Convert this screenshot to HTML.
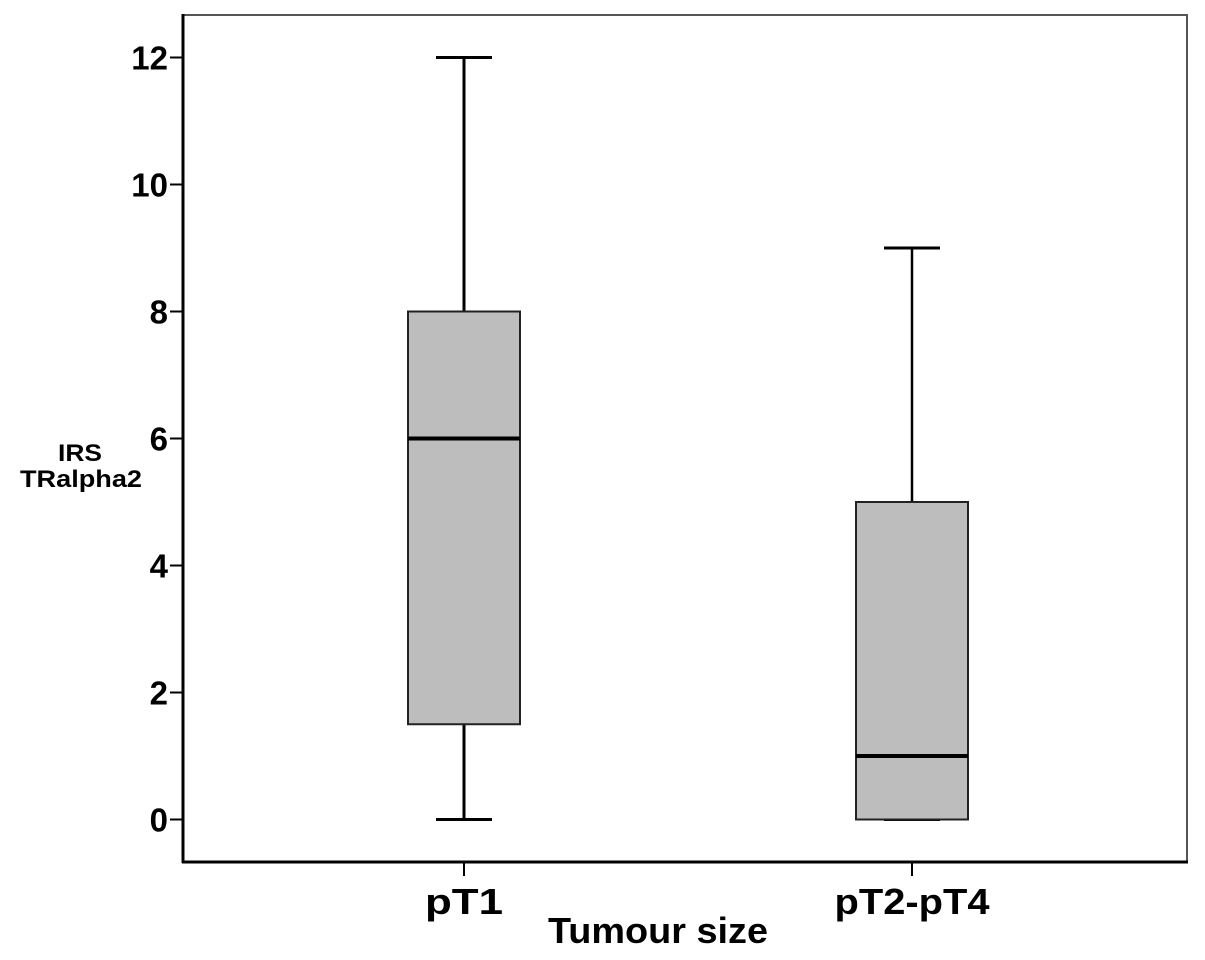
<!DOCTYPE html>
<html><head><meta charset="utf-8"><style>
html,body{margin:0;padding:0;background:#fff;}
svg{display:block;font-family:"Liberation Sans",Arial,sans-serif;font-weight:bold;}
</style></head><body>
<svg id="chart" width="1205" height="960" viewBox="0 0 1205 960" xmlns="http://www.w3.org/2000/svg">
<rect x="183" y="15" width="1004" height="847" fill="#fff" stroke="#555" stroke-width="2"/>
<line x1="183" y1="14" x2="183" y2="863" stroke="#000" stroke-width="3"/>
<line x1="182" y1="862" x2="1188" y2="862" stroke="#000" stroke-width="3"/>
<g id="yticks"></g>
<g id="xticks"></g>
<g id="boxes"></g>
<text x="80" y="461" font-size="24" text-anchor="middle" textLength="44" lengthAdjust="spacingAndGlyphs">IRS</text>
<text x="81" y="487" font-size="24" text-anchor="middle" textLength="122" lengthAdjust="spacingAndGlyphs">TRalpha2</text>
<text x="658" y="943" font-size="36" text-anchor="middle" textLength="220" lengthAdjust="spacingAndGlyphs">Tumour size</text>
</svg>
<script>
const categories = ["pT1", "pT2-pT4"];
const whiskerLow = [0, 0];
const q1 = [1.5, 0];
const medians = [6, 1];
const q3 = [8, 5];
const whiskerHigh = [12, 9];
const yTicks = [0, 2, 4, 6, 8, 10, 12];

const NS = "http://www.w3.org/2000/svg";
const y = v => 819.5 - v * (762 / 12);
const xc = i => 464 + i * 448;
function mk(tag, attrs, parent) {
  const e = document.createElementNS(NS, tag);
  for (const k in attrs) e.setAttribute(k, attrs[k]);
  parent.appendChild(e);
  return e;
}
const yt = document.getElementById('yticks');
yTicks.forEach(v => {
  const l = mk('line', {x1: 170, x2: 183, y1: y(v), y2: y(v), stroke: '#000', 'stroke-width': 2}, yt);
  
  
  const t = mk('text', {x: 168, y: y(v) + 12, 'font-size': 33, 'text-anchor': 'end'}, yt);
  t.textContent = v;
  
  
});
const xt = document.getElementById('xticks');
const catW = [78, 155];
categories.forEach((c, i) => {
  const l = mk('line', {x1: xc(i), x2: xc(i), y1: 862, y2: 876, stroke: '#000', 'stroke-width': 2}, xt);
  
  
  const t = mk('text', {x: xc(i), y: 914, 'font-size': 36, 'text-anchor': 'middle', textLength: catW[i], lengthAdjust: 'spacingAndGlyphs'}, xt);
  t.textContent = c;
  
  
});
const bx = document.getElementById('boxes');
categories.forEach((c, i) => {
  const cx = xc(i);
  const sw = i === 0 ? 3 : 2.5;
  const w1 = mk('line', {x1: cx, x2: cx, y1: y(q3[i]), y2: y(whiskerHigh[i]), stroke: '#000', 'stroke-width': sw}, bx);
  
  
  const w2 = mk('line', {x1: cx, x2: cx, y1: y(q1[i]), y2: y(whiskerLow[i]), stroke: '#000', 'stroke-width': sw}, bx);
  
  
  const c1 = mk('line', {x1: cx - 28, x2: cx + 28, y1: y(whiskerHigh[i]), y2: y(whiskerHigh[i]), stroke: '#000', 'stroke-width': 3}, bx);
  
  
  const c2 = mk('line', {x1: cx - 28, x2: cx + 28, y1: y(whiskerLow[i]), y2: y(whiskerLow[i]), stroke: '#000', 'stroke-width': 3}, bx);
  
  
  const r = mk('rect', {x: cx - 56, y: y(q3[i]), width: 112, height: y(q1[i]) - y(q3[i]), fill: '#bdbdbd', stroke: '#222', 'stroke-width': 2}, bx);
  
  
  const m = mk('line', {x1: cx - 56, x2: cx + 56, y1: y(medians[i]), y2: y(medians[i]), stroke: '#000', 'stroke-width': 4}, bx);
  
  
});
</script>
</body></html>
